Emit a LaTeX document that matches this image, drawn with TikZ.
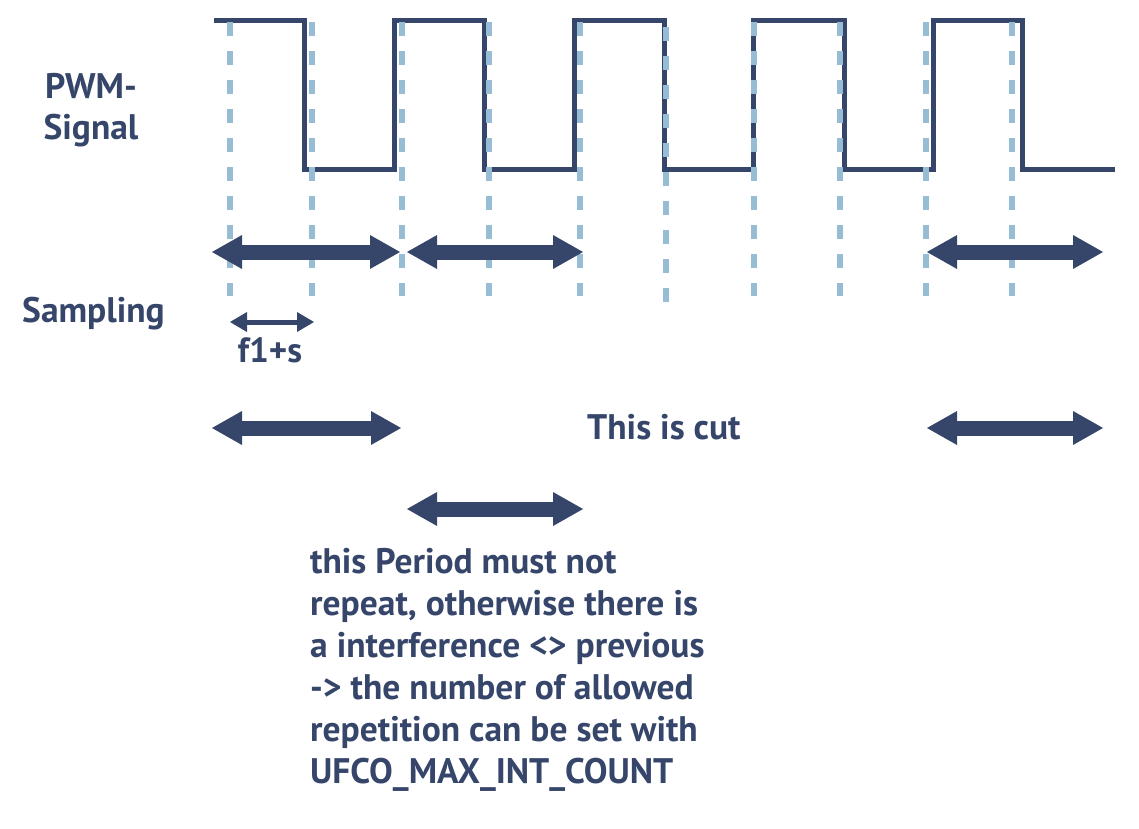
\documentclass[tikz,border=0pt]{standalone}
\usepackage{fontspec}
\setmainfont{PT Sans}
\usetikzlibrary{arrows.meta}
\definecolor{navy}{HTML}{36456A}
\definecolor{dashblue}{HTML}{96BDD4}

\begin{document}
\begin{tikzpicture}[x=1pt,y=-1pt,
        wave/.style={navy, line width=5pt, line join=miter},
        sample/.style={dashblue, line width=5.5pt, dash pattern=on 13.5pt off 15.5pt},
        span/.style={navy, line width=15pt,
            {Triangle[length=30pt,width=34pt,line width=0pt]}-{Triangle[length=30pt,width=34pt,line width=0pt]}},
        smallspan/.style={navy, line width=5pt,
            {Triangle[length=17pt,width=20pt,line width=0pt]}-{Triangle[length=17pt,width=20pt,line width=0pt]}},
        label/.style={navy, inner sep=0pt, font=\bfseries\fontsize{35.5}{42}\selectfont}]
        \useasboundingbox (0,0) rectangle (1139,828);

        % pwm signal
        \draw[wave] (214,20) -| (304,169) -| (394,20) -| (484,169) -| (574,20) -| (664,169)
            -| (753,20) -| (844,169) -| (933,20) -| (1022,169) -- (1115,169);

        % sampling instants
        \foreach \x in {230,312,402,489,580,754,840,926,1012}
            \draw[sample] (\x,22) -- (\x,296);
        \draw[sample] (666,27) -- (666,302);

        % periods
        \coordinate (a1) at (212,252);
        \coordinate (a2) at (400,252);
        \coordinate (b1) at (407,252);
        \coordinate (b2) at (583,252);
        \coordinate (c1) at (927,252);
        \coordinate (c2) at (1103,252);
        \coordinate (d1) at (212,428);
        \coordinate (d2) at (401,428);
        \coordinate (e1) at (927,428);
        \coordinate (e2) at (1103,428);
        \coordinate (f1) at (407,509);
        \coordinate (f2) at (583,509);
        \coordinate (s1) at (230,322);
        \coordinate (s2) at (314,322);

        \draw[span] (a1) -- (a2);
        \draw[span] (b1) -- (b2);
        \draw[span] (c1) -- (c2);
        \draw[span] (d1) -- (d2);
        \draw[span] (e1) -- (e2);
        \draw[span] (f1) -- (f2);
        \draw[smallspan] (s1) -- (s2);

        % labels (base = last line)
        \node[label, align=center, anchor=base, font=\bfseries\fontsize{35.5}{41}\selectfont] (pwm) at (91,139) {PWM-\\Signal};
        \node[label, anchor=base west] (sampling) at (22,322) {Sampling};
        \node[label, font=\bfseries\fontsize{35}{42}\selectfont, anchor=base] (fs) at (270,362) {f1+s};
        \node[label, anchor=base west] (cut) at (587,439) {This is cut};
        \node[label, align=left, anchor=base west] (note) at (310,783) {this Period must not\\
            repeat, otherwise there is\\a interference <> previous\\-> the number of allowed\\
            repetition can be set with\\UFCO\_MAX\_INT\_COUNT};
\end{tikzpicture}
\end{document}
